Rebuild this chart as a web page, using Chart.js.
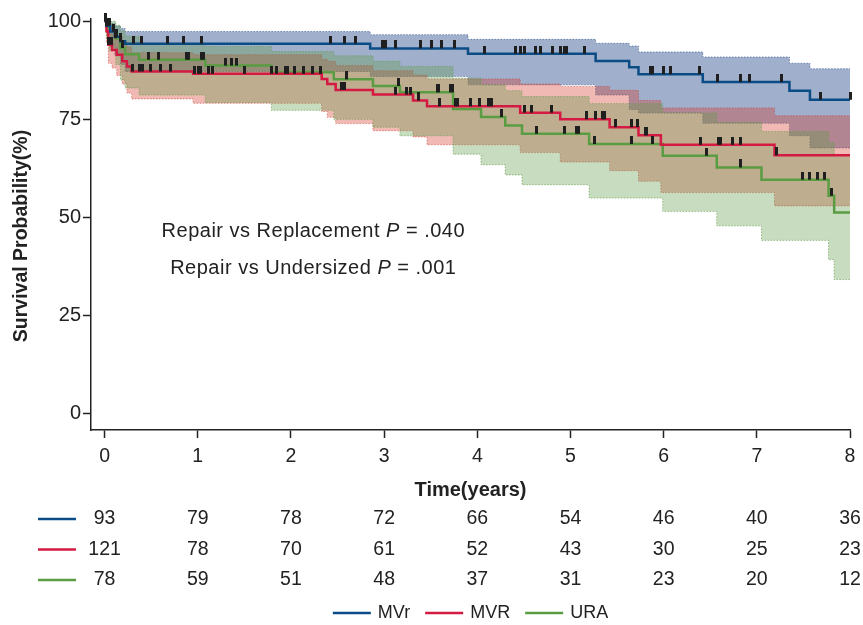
<!DOCTYPE html>
<html>
<head>
<meta charset="utf-8">
<script src="https://cdn.jsdelivr.net/npm/chart.js@4.4.1/dist/chart.umd.min.js"></script>
<style>
  html, body { margin: 0; padding: 0; background: #fff; }
</style>
</head>
<body>
<canvas id="km" width="863" height="625"></canvas>
<script>
const years = [0, 1, 2, 3, 4, 5, 6, 7, 8];
const yTicks = [0, 25, 50, 75, 100];
const groupNames = ['MVr', 'MVR', 'URA'];

// numbers at risk (rows under the x axis)
const riskRepair = [93, 79, 78, 72, 66, 54, 46, 40, 36];
const riskReplace = [121, 78, 70, 61, 52, 43, 30, 25, 23];
const riskUndersized = [78, 59, 51, 48, 37, 31, 23, 20, 12];

// MVr - repair
const repairTime  = [0, 0.02, 0.06, 0.11, 0.17, 0.22, 2.85, 3.9, 5.27, 5.63, 5.73, 6.42, 7.35, 7.57, 8.0];
const repairSurv  = [100, 98.9, 97.4, 96.1, 94.9, 94.3, 93.1, 91.7, 89.9, 88.3, 86.5, 84.5, 82.3, 80.0, 80.0];
const repairUpper = [100, 100, 99.5, 98.8, 98.2, 97.4, 96.6, 95.4, 94.4, 93.7, 92.2, 90.9, 89.3, 87.9, 87.9];
const repairLower = [100, 96.8, 93.5, 91.2, 89.0, 87.2, 85.9, 83.8, 81.2, 77.5, 76.6, 74.0, 70.8, 67.7, 67.7];
const repairCensor = [0.01, 0.05, 0.1, 0.13, 0.17, 0.31, 0.4, 0.67, 0.85, 1.04, 2.42, 2.57, 2.69, 2.98, 3.02,
  3.12, 3.39, 3.51, 3.62, 3.76, 4.08, 4.41, 4.46, 4.51, 4.62, 4.68, 4.81, 4.89, 4.94, 4.96, 5.15, 5.86, 5.88,
  6.0, 6.07, 6.39, 6.58, 6.83, 6.92, 7.26, 7.68, 8.0];

// MVR - replacement
const replaceTime  = [0, 0.02, 0.04, 0.08, 0.13, 0.19, 0.24, 0.29, 0.95, 2.33, 2.39, 2.48, 2.88, 3.31, 3.46, 4.46, 4.89, 5.42, 5.73, 5.97, 7.19, 8.0];
const replaceSurv  = [100, 97.5, 94.0, 92.7, 91.5, 89.8, 88.5, 87.2, 86.6, 85.3, 84.0, 82.5, 81.3, 79.8, 78.3, 76.7, 75.0, 73.0, 70.9, 68.5, 65.8, 65.8];
const replaceUpper = [100, 99.5, 98.5, 97.3, 96.2, 94.7, 93.5, 92.0, 91.5, 90.3, 89.8, 88.7, 87.4, 86.3, 85.3, 84.0, 83.4, 82.4, 79.8, 77.9, 75.9, 75.9];
const replaceLower = [100, 94.5, 89.3, 88.1, 86.2, 84.0, 81.7, 80.2, 79.1, 77.0, 75.5, 73.9, 72.1, 70.5, 68.5, 66.5, 64.1, 61.9, 59.2, 56.3, 52.9, 52.9];
const replaceCensor = [0.04, 0.07, 0.3, 0.37, 0.41, 0.49, 0.6, 0.71, 0.97, 1.01, 1.03, 1.11, 1.16, 1.5, 1.79,
  1.84, 1.94, 1.96, 2.04, 2.13, 2.23, 2.32, 2.54, 2.58, 3.12, 3.24, 3.28, 3.37, 3.59, 3.77, 3.79, 3.93, 4.02,
  4.12, 4.15, 4.51, 4.58, 4.8, 5.17, 5.27, 5.34, 5.36, 5.48, 5.65, 5.72, 5.8, 5.82, 6.4, 6.59, 6.61, 6.74,
  6.82, 7.21];

// URA - undersized annuloplasty
const undersizedTime  = [0, 0.02, 0.05, 0.12, 0.17, 0.22, 0.37, 1.08, 1.79, 2.46, 2.88, 3.17, 3.74, 4.04, 4.3, 4.48, 5.2, 5.99, 6.57, 7.05, 7.77, 7.83, 8.0];
const undersizedSurv  = [100, 98.7, 97.4, 95.7, 93.2, 91.6, 90.2, 88.7, 87.0, 85.2, 83.5, 81.9, 77.6, 75.6, 73.4, 71.3, 68.7, 65.7, 62.7, 59.6, 55.5, 51.2, 51.2];
const undersizedUpper = [100, 100, 100, 99.0, 97.6, 96.2, 94.4, 93.6, 92.3, 91.2, 89.8, 88.5, 85.5, 83.8, 82.3, 80.8, 79.0, 76.6, 74.2, 71.9, 69.1, 65.9, 65.9];
const undersizedLower = [100, 95.5, 92.5, 89.0, 85.0, 83.0, 81.2, 79.3, 77.3, 75.0, 73.0, 70.8, 66.1, 63.4, 60.8, 58.3, 54.9, 51.5, 47.8, 44.1, 39.2, 34.1, 34.1];
const undersizedCensor = [0.02, 0.12, 0.19, 0.47, 0.58, 0.88, 0.9, 1.04, 1.06, 1.3, 1.36, 1.42, 2.6, 3.15,
  3.57, 3.58, 3.71, 3.73, 4.26, 4.63, 4.94, 5.07, 5.09, 5.26, 5.66, 5.88, 6.46, 6.82, 7.49, 7.56, 7.65, 7.73, 7.8];

const pNotes = [
  ['Repair vs Replacement ', '= .040'],
  ['Repair vs Undersized ', '= .001']
];

const lineColors = ['#0b4c86', '#d41a42', '#5a9c42'];
const bandColors = ['rgba(44,79,142,0.45)', 'rgba(212,55,41,0.35)', 'rgba(98,155,75,0.35)'];
const bandEdges  = ['rgba(44,79,142,0.6)', 'rgba(200,60,50,0.55)', 'rgba(98,155,75,0.65)'];
const FONT = "'Liberation Sans', Arial, Helvetica, sans-serif";
const INK = '#222';

function pts(times, vals) {
  return times.map((t, i) => ({x: t, y: vals[i]}));
}

// value of the step curve at time t (last step at or before t)
function stepValue(times, vals, t) {
  let v = vals[0];
  for (let i = 0; i < times.length; i++) {
    if (times[i] <= t) v = vals[i];
  }
  return v;
}

// little vertical censor tick that sits on top of the curve
const tickMark = document.createElement('canvas');
tickMark.width = 3;
tickMark.height = 16;
const tctx = tickMark.getContext('2d');
tctx.fillStyle = '#1f1f1f';
tctx.fillRect(0, 0, 3, 8);

const groups = [
  {time: repairTime, surv: repairSurv, up: repairUpper, lo: repairLower, cens: repairCensor},
  {time: replaceTime, surv: replaceSurv, up: replaceUpper, lo: replaceLower, cens: replaceCensor},
  {time: undersizedTime, surv: undersizedSurv, up: undersizedUpper, lo: undersizedLower, cens: undersizedCensor}
];

const datasets = [];
groups.forEach((g, k) => {
  datasets.push({
    label: groupNames[k] + ' censored',
    data: g.cens.map(t => ({x: t, y: stepValue(g.time, g.surv, t)})),
    showLine: false,
    pointStyle: tickMark,
    pointRadius: 3,
    clip: false,
    order: 0
  });
});
groups.forEach((g, k) => {
  datasets.push({
    label: groupNames[k],
    data: pts(g.time, g.surv),
    stepped: true,
    borderColor: lineColors[k],
    borderWidth: 2.5,
    pointRadius: 0,
    fill: false,
    order: 1
  });
});
groups.forEach((g, k) => {
  const idx = datasets.length;
  datasets.push({
    label: groupNames[k] + ' upper',
    data: pts(g.time, g.up),
    stepped: true,
    borderColor: bandEdges[k],
    borderWidth: 1,
    borderDash: [1.5, 1.5],
    pointRadius: 0,
    backgroundColor: bandColors[k],
    fill: {target: idx + 1},
    order: 4 - k
  });
  datasets.push({
    label: groupNames[k] + ' lower',
    data: pts(g.time, g.lo),
    stepped: true,
    borderColor: bandEdges[k],
    borderWidth: 1,
    borderDash: [1.5, 1.5],
    pointRadius: 0,
    fill: false,
    order: 4 - k
  });
});

const riskRows = [riskRepair, riskReplace, riskUndersized];

const extras = {
  id: 'extras',
  afterDraw(chart) {
    const {ctx, chartArea} = chart;
    const x = chart.scales.x;
    const y = chart.scales.y;
    ctx.save();
    ctx.fillStyle = INK;

    // y axis title, a little below the middle like the original
    ctx.save();
    ctx.translate(22, 236);
    ctx.rotate(-Math.PI / 2);
    ctx.font = 'bold 19.5px ' + FONT;
    ctx.textAlign = 'center';
    ctx.textBaseline = 'middle';
    ctx.fillText('Survival Probability(%)', 0, 0);
    ctx.restore();

    // p values
    ctx.textBaseline = 'alphabetic';
    ctx.letterSpacing = '0.5px';
    const noteX = x.getPixelForValue(2.24);
    const noteY = [y.getPixelForValue(45.0), y.getPixelForValue(35.6)];
    pNotes.forEach((n, i) => {
      ctx.font = '20px ' + FONT;
      const w1 = ctx.measureText(n[0]).width;
      const w3 = ctx.measureText(' ' + n[1]).width;
      ctx.font = 'italic 20px ' + FONT;
      const w2 = ctx.measureText('P').width;
      let left = noteX - (w1 + w2 + w3) / 2;
      ctx.textAlign = 'left';
      ctx.font = '20px ' + FONT;
      ctx.fillText(n[0], left, noteY[i]);
      ctx.font = 'italic 20px ' + FONT;
      ctx.fillText('P', left + w1, noteY[i]);
      ctx.font = '20px ' + FONT;
      ctx.fillText(' ' + n[1], left + w1 + w2, noteY[i]);
    });
    ctx.letterSpacing = '0px';

    // number at risk table
    ctx.font = '19.5px ' + FONT;
    ctx.textAlign = 'center';
    ctx.textBaseline = 'middle';
    riskRows.forEach((row, r) => {
      const yy = chartArea.bottom + 89 + r * 30.5;
      ctx.strokeStyle = lineColors[r];
      ctx.lineWidth = 2.5;
      ctx.beginPath();
      ctx.moveTo(38, yy);
      ctx.lineTo(76, yy);
      ctx.stroke();
      row.forEach((n, i) => ctx.fillText(String(n), x.getPixelForValue(years[i]), yy));
    });

    // legend, centred under the plot area
    ctx.font = '18px ' + FONT;
    ctx.textAlign = 'left';
    const seg = 38, gap = 7, between = 15;
    const widths = groupNames.map(s => ctx.measureText(s).width);
    const total = widths.reduce((a, b) => a + b, 0) + groupNames.length * (seg + gap) + between * (groupNames.length - 1);
    let lx = (chartArea.left + chartArea.right) / 2 - total / 2;
    const ly = 613;
    groupNames.forEach((s, k) => {
      ctx.strokeStyle = lineColors[k];
      ctx.lineWidth = 2.5;
      ctx.beginPath();
      ctx.moveTo(lx, ly);
      ctx.lineTo(lx + seg, ly);
      ctx.stroke();
      ctx.fillText(s, lx + seg + gap, ly);
      lx += seg + gap + widths[k] + between;
    });
    ctx.restore();
  }
};

Chart.defaults.font.family = FONT;
Chart.defaults.color = INK;

new Chart(document.getElementById('km'), {
  type: 'line',
  data: {datasets: datasets},
  options: {
    responsive: false,
    animation: false,
    layout: {padding: {top: 19, right: 13, left: 0, bottom: 0}},
    plugins: {
      legend: {display: false},
      tooltip: {enabled: false},
      filler: {propagate: false}
    },
    scales: {
      x: {
        type: 'linear',
        min: -0.146,
        max: 8,
        afterBuildTicks: s => { s.ticks = years.map(v => ({value: v})); },
        afterFit: s => { s.height = 195; },
        grid: {drawOnChartArea: false, drawTicks: true, tickLength: 8, tickColor: INK, tickWidth: 1.5},
        border: {display: true, color: INK, width: 1.5},
        ticks: {font: {size: 19.5}, color: INK, padding: 7, maxRotation: 0},
        title: {
          display: true,
          text: 'Time(years)',
          font: {size: 20, weight: 'bold'},
          color: INK,
          padding: {top: 4, bottom: 123}
        }
      },
      y: {
        type: 'linear',
        min: -4.3,
        max: 100.6,
        afterBuildTicks: s => { s.ticks = yTicks.map(v => ({value: v})); },
        afterFit: s => { s.width = 91; },
        grid: {drawOnChartArea: false, drawTicks: true, tickLength: 8, tickColor: INK, tickWidth: 1.5},
        border: {display: true, color: INK, width: 1.5},
        ticks: {font: {size: 20}, color: INK, padding: 2},
        title: {display: false}
      }
    }
  },
  plugins: [extras]
});
</script>
</body>
</html>
